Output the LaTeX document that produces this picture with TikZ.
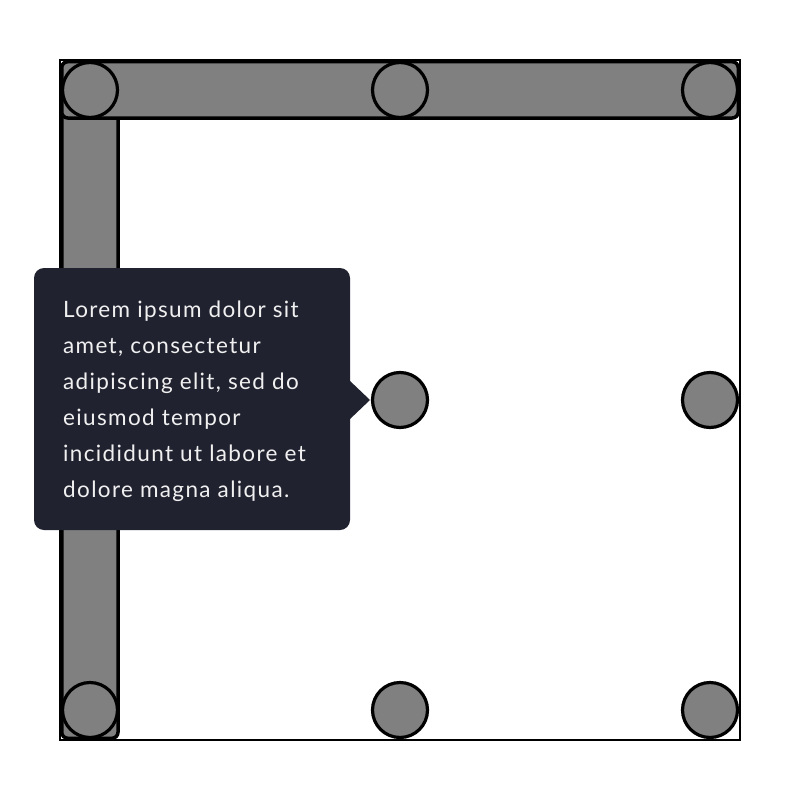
\documentclass[tikz,border=0pt]{standalone}
\usepackage{fontspec}
\setmainfont{Lato}
\newfontfamily\tipfont[LetterSpace=6]{Lato}
\definecolor{bargray}{RGB}{128,128,128}
\definecolor{tipbg}{RGB}{32,34,48}
\definecolor{tiptext}{RGB}{240,240,240}
\tikzset{
  bar/.style={draw=black, fill=bargray, line width=3.5pt, rounded corners=6pt},
  dot/.style={circle, draw=black, fill=bargray, line width=3.2pt, minimum size=55pt, inner sep=0pt},
  tipbox/.style={fill=tipbg, rounded corners=10pt},
  tipline/.style={anchor=base west, inner sep=0pt, text=tiptext, font=\tipfont\fontsize{22.5pt}{36pt}\selectfont}
}
\begin{document}
\begin{tikzpicture}[x=1pt,y=-1pt]
\useasboundingbox (0,0) rectangle (800,800);
\draw[line width=1.5pt] (60,60) rectangle (740,740);
\draw[bar] (61.75,61.75) rectangle (118,738.25);
\draw[bar] (61.75,61.75) rectangle (738.25,118);
\node[dot] (c11) at (90,90) {};
\node[dot] (c12) at (400,90) {};
\node[dot] (c13) at (710,90) {};
\node[dot] (c22) at (400,400) {};
\node[dot] (c23) at (710,400) {};
\node[dot] (c31) at (90,710) {};
\node[dot] (c32) at (400,710) {};
\node[dot] (c33) at (710,710) {};
\fill[tipbox] (34,268) rectangle (350,530);
\fill[tipbg] (349,380) -- (370,400) -- (349,420) -- cycle;
\node[tipline] (t1) at (63,317.5) {Lorem ipsum dolor sit};
\node[tipline] (t2) at (63,353.5) {amet, consectetur};
\node[tipline] (t3) at (63,389.5) {adipiscing elit, sed do};
\node[tipline] (t4) at (63,425.5) {eiusmod tempor};
\node[tipline] (t5) at (63,461.5) {incididunt ut labore et};
\node[tipline] (t6) at (63,497.5) {dolore magna aliqua.};
\end{tikzpicture}
\end{document}
